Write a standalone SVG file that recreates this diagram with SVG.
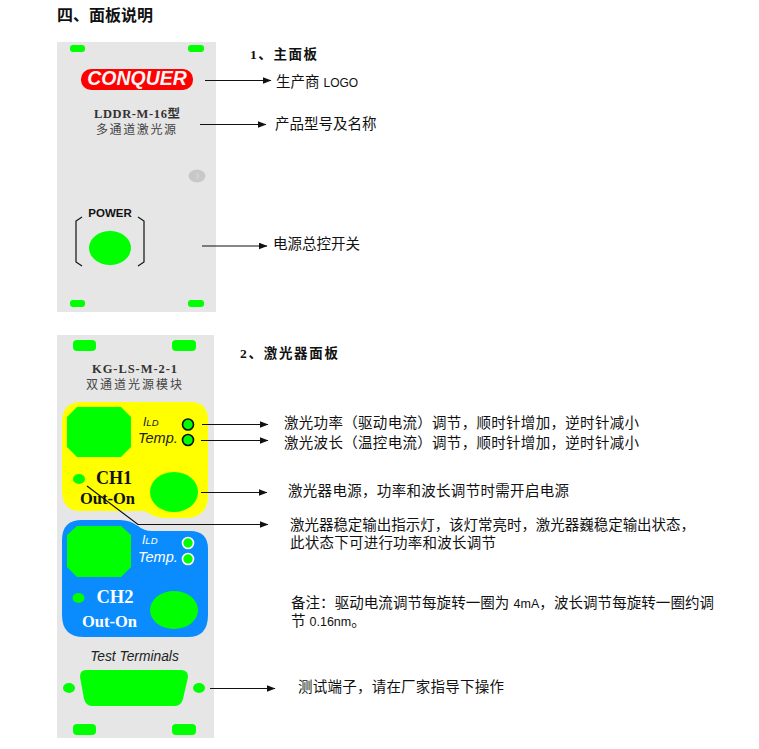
<svg xmlns="http://www.w3.org/2000/svg" width="759" height="749" viewBox="0 0 759 749">
<style>
.cn{font-family:"Liberation Sans","Noto Sans CJK SC",sans-serif;font-size:14.5px;fill:#111}
.h{font-family:"Liberation Serif","Noto Sans CJK SC",serif;font-size:13.5px;font-weight:700;fill:#111}
.s{font-family:"Liberation Serif","Noto Sans CJK SC",serif;font-weight:700;text-anchor:middle}
.z{font-family:"Noto Sans CJK SC",sans-serif;font-weight:400;font-size:12px;fill:#444}
.it{font-family:"Liberation Sans",sans-serif;font-style:italic;fill:#222}
.g{fill:#00ff00}
.p{fill:#e6e6e6}
.l{stroke:#111;stroke-width:1.2;fill:none}
.d{fill:#00ff00;stroke:#111;stroke-width:1.6}
.w{fill:#00ff00;stroke:#fff;stroke-width:1.6}
</style>
<defs><marker id="a" markerWidth="9" markerHeight="7" refX="8.500" refY="3.500" orient="auto" markerUnits="userSpaceOnUse"><path d="M0 0L9 3.500L0 7z" fill="#111"/></marker></defs>
<rect width="759" height="749" fill="#fff"/>
<text class="h" x="57" y="21" style="font-size:16px">四、面板说明</text>
<text class="h" x="250" y="59" textLength="67">1、主面板</text>
<text class="h" x="240" y="358" textLength="98">2、激光器面板</text>
<g id="main-panel">
<rect class="p" x="57" y="42" width="159" height="270"/>
<rect class="g" x="70" y="45" width="15" height="7" rx="3"/><rect class="g" x="188" y="45" width="16" height="7" rx="3"/>
<rect class="g" x="70" y="300" width="15" height="7" rx="3"/><rect class="g" x="188" y="300" width="16" height="7" rx="3"/>
<rect x="81" y="69" width="112" height="21" rx="10" fill="#ff0000"/>
<text x="137" y="85" text-anchor="middle" font-family="Liberation Sans,sans-serif" font-style="italic" font-weight="700" font-size="19.500" fill="#f4f4f4">CONQUER</text>
<text class="s" x="137" y="118" font-size="12.500" fill="#333" textLength="86">LDDR-M-16型</text>
<text class="z" x="96" y="134" textLength="80">多通道激光源</text>
<ellipse cx="197" cy="176" rx="8.500" ry="6.500" fill="#c8c8c8"/>
<path d="M196 173.500L199 176L196 178.500" fill="none" stroke="#ddd" stroke-width="1"/>
<text x="110" y="217" text-anchor="middle" font-family="Liberation Sans,sans-serif" font-weight="700" font-size="11.500" fill="#111">POWER</text>
<path class="l" d="M82 217L76 221V262L82 266M138 217L144 221V262L138 266"/>
<ellipse class="g" cx="110" cy="248" rx="21" ry="17"/>
</g>
<g id="laser-panel">
<rect class="p" x="57" y="335" width="157" height="403"/>
<rect class="g" x="73" y="340" width="23" height="11" rx="4"/><rect class="g" x="172" y="340" width="24" height="11" rx="4"/>
<text class="s" x="134.500" y="373" font-size="12.500" fill="#333" textLength="85">KG-LS-M-2-1</text>
<text class="z" x="86" y="389" textLength="96">双通道光源模块</text>
</g>
<g id="ch1">
<path fill="#ffff00" d="M82 402H190Q208 402 208 420V495Q208 518 185 518H165Q155 518 145 511H80Q62 511 62 490V422Q62 402 82 402z"/>
<path class="g" d="M77 407H121L131 417V447L121 457H77L67 447V417z"/>
<text class="it" x="143" y="426" font-size="12">I<tspan font-size="9.500">LD</tspan></text>
<text class="it" x="138" y="443" font-size="14.500">Temp.</text>
<circle class="d" cx="188" cy="424.500" r="5.500"/>
<circle class="d" cx="188" cy="440" r="5.500"/>
<ellipse class="g" cx="79" cy="479" rx="6" ry="5"/>
<text class="s" x="114" y="484" font-size="18" fill="#111">CH1</text>
<text class="s" x="107.500" y="504" font-size="16.500" fill="#111">Out-On</text>
<ellipse class="g" cx="174" cy="492" rx="24" ry="20"/>
</g>
<g id="ch2">
<path fill="#0a8cff" d="M82 520H120Q130 520 138 526Q144 531 152 531H190Q208 531 208 549V615Q208 637 188 637H84Q62 637 62 615V540Q62 520 82 520z"/>
<path class="g" d="M77 526H121L131 535V567L121 577H77L67 567V535z"/>
<text class="it" x="142" y="544" font-size="12" style="fill:#fff">I<tspan font-size="9.500">LD</tspan></text>
<text class="it" x="138" y="562" font-size="14.500" style="fill:#fff">Temp.</text>
<circle class="w" cx="188" cy="543" r="5.500"/>
<circle class="w" cx="188" cy="559" r="5.500"/>
<ellipse class="g" cx="78.500" cy="598" rx="6" ry="5"/>
<text class="s" x="115" y="603" font-size="18.500" fill="#fff">CH2</text>
<text class="s" x="109.500" y="627" font-size="16.500" fill="#fff">Out-On</text>
<ellipse class="g" cx="174" cy="610" rx="24" ry="19"/>
</g>
<g id="test-terminals">
<text class="it" x="134.500" y="661" text-anchor="middle" font-size="13.800">Test Terminals</text>
<path class="g" d="M86 670H181Q188 670 188 677L183 699Q181 706 175 706H92Q86 706 84 699L80 677Q80 670 86 670z"/>
<ellipse class="g" cx="69" cy="688" rx="6" ry="5"/><ellipse class="g" cx="199" cy="688" rx="6" ry="5"/>
<rect class="g" x="73" y="724" width="23" height="11" rx="4"/><rect class="g" x="172" y="724" width="24" height="11" rx="4"/>
</g>
<g id="connectors">
<path class="l" marker-end="url(#a)" d="M205 80.500H271"/>
<path class="l" marker-end="url(#a)" d="M200 124.500H266"/>
<path class="l" marker-end="url(#a)" d="M202 246H267"/>
<path class="l" marker-end="url(#a)" d="M202 424.500H268"/>
<path class="l" marker-end="url(#a)" d="M201 440.500H268"/>
<path class="l" marker-end="url(#a)" d="M201 492.500H267"/>
<path class="l" marker-end="url(#a)" d="M87 486L138 524.500H268"/>
<path class="l" marker-end="url(#a)" d="M210 688.500H275"/>
</g>
<g id="labels">
<text class="cn" x="276" y="87">生产商 <tspan style="font-size:12px">LOGO</tspan></text>
<text class="cn" x="275" y="129">产品型号及名称</text>
<text class="cn" x="273" y="249">电源总控开关</text>
<text class="cn" x="284" y="428" textLength="355">激光功率（驱动电流）调节，顺时针增加，逆时针减小</text>
<text class="cn" x="284" y="448" textLength="355">激光波长（温控电流）调节，顺时针增加，逆时针减小</text>
<text class="cn" x="288" y="496" textLength="281">激光器电源，功率和波长调节时需开启电源</text>
<text class="cn" x="290" y="530" textLength="405">激光器稳定输出指示灯，该灯常亮时，激光器巍稳定输出状态，</text>
<text class="cn" x="290" y="548" textLength="206">此状态下可进行功率和波长调节</text>
<text class="cn" x="291" y="608" textLength="423">备注：驱动电流调节每旋转一圈为 <tspan style="font-size:12.500px">4mA</tspan>，波长调节每旋转一圈约调</text>
<text class="cn" x="291" y="626">节 <tspan style="font-size:12.500px">0.16nm</tspan><tspan style="font-family:'Noto Sans CJK SC',sans-serif">。</tspan></text>
<text class="cn" x="298" y="692" textLength="206">测试端子，请在厂家指导下操作</text>
</g>
</svg>
